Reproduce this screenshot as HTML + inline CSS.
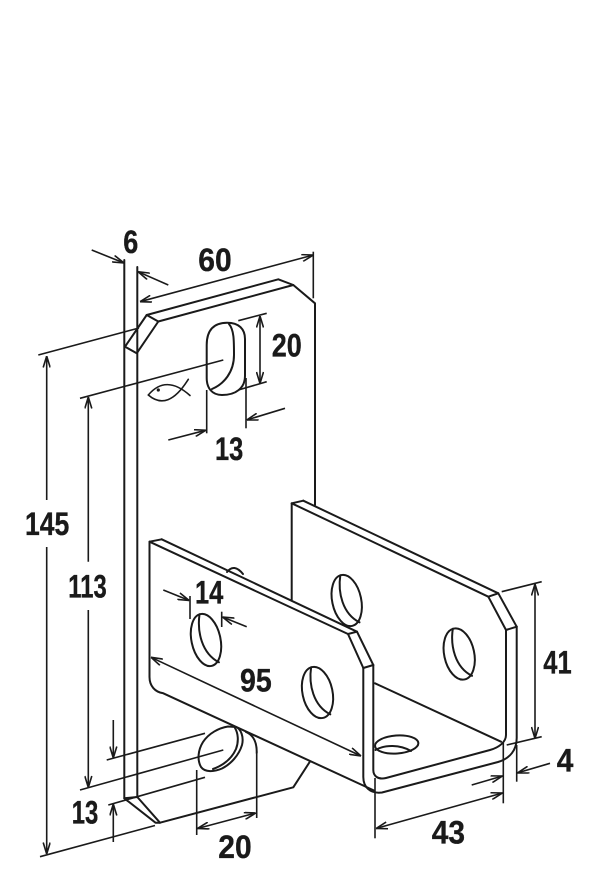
<!DOCTYPE html>
<html>
<head>
<meta charset="utf-8">
<style>
  html,body{margin:0;padding:0;background:#fff;}
  svg{display:block;}
  text{font-family:"Liberation Sans",sans-serif;font-weight:bold;font-size:32px;fill:#1a1a1a;stroke:#1a1a1a;stroke-width:0.35;}
</style>
</head>
<body>
<svg width="600" height="869" viewBox="0 0 600 869" xmlns="http://www.w3.org/2000/svg">
  <defs>
    <marker id="ah" viewBox="0 0 12 8" refX="12" refY="4" markerWidth="12" markerHeight="8" markerUnits="userSpaceOnUse" orient="auto-start-reverse">
      <path d="M0.5,0.5 L12,4 L0.5,7.5" fill="none" stroke="#1a1a1a" stroke-width="1.6"/>
    </marker>
  </defs>

  <!-- OBJECT OUTLINES -->
  <g fill="none" stroke="#1a1a1a" stroke-width="2" stroke-linejoin="round" stroke-linecap="round">
    <!-- main vertical plate -->
    <path d="M124.3,260 V798.3"/>
    <path d="M137.3,267 V797"/>
    <path d="M146.7,315 L158.3,321.5 L136.7,353.3 L125,346.7 Z"/>
    <path d="M146.7,315 L278.3,279.3 L293.3,285 L315,303.3 V505"/>
    <path d="M158.3,321.5 L293.3,285"/>
    <path d="M124.3,798.3 L137.3,797 L160,822.7 L155.5,822.7 Z"/>
    <path d="M160,822.7 L293.3,787.3 L310,761.5"/>

    <!-- top slot -->
    <path d="M206.7,345 C206.7,330 214,322.7 227,322.7 C239,322.7 245,329 245,339 V376 C245,388 236,395 222,395 C212,395 206.7,388 206.7,378 Z"/>
    <path d="M229,324 C234,330 234,340 234,355 C234,372 224,384 212,389"/>

    <!-- fish symbol -->
    <path d="M148.3,395 Q166,374 190,395.5" stroke-width="1.6"/>
    <path d="M148.3,395 Q168,412 188.3,379.3" stroke-width="1.6"/>
    <circle cx="158.3" cy="390" r="1.2" fill="#1a1a1a" stroke-width="0.8"/>

    <!-- bottom slot -->
    <path d="M228,726.5 C219,728 209,733 203,742 C198,750 197,760 201,767 C205,772.5 214,772 222,768.5 C231,764 239,755 242,745 C244,737 241,729 236,727 Z"/>
    <path d="M235,728 C238,733 239,741 236,749 C232,758 224,765 213,769"/>
    <path d="M246,732 C253,735 257,742 256.7,753"/>

    <!-- small peek arc -->
    <path d="M227,572 Q234,563 243,574"/>

    <!-- back flange -->
    <path d="M303.3,500.7 L291.7,503.3 V600"/>
    <path d="M291.7,503.3 L488.3,596.7 L506,630"/>
    <path d="M303.3,500.7 L498.3,593.3 L516.7,626.7"/>
    <path d="M488.3,596.7 L498.3,593.3"/>
    <path d="M506,630 L516.7,626.7"/>
    <path d="M375,683.3 L501,741.7"/>

    <!-- front flange -->
    <path d="M161.7,539.3 L149.5,541.7 V677 C149.5,686 155,692 163.3,693.3 L374,790.5"/>
    <path d="M149.5,541.7 L348,634 L363.3,668"/>
    <path d="M161.7,539.3 L357,631.7 L373.3,665"/>
    <path d="M348,634 L357,631.7"/>
    <path d="M363.3,668 L373.3,665"/>

    <!-- U profile -->
    <path d="M363.3,668 V777 C363.3,787 370,794 382,792.5 L498,762 C510,758.5 516.7,750 516.7,738 V626.7"/>
    <path d="M373.3,665 V770 C373.3,776 378,780 386,778 L490,750 C499,747.5 506,742 506,735 V630"/>

    <!-- holes -->
    <g transform="translate(346.7,600.5) rotate(-12)">
      <ellipse cx="0" cy="0" rx="14.5" ry="26"/>
      <path d="M-1,-26 C-7,-10 -7,12 8,24"/>
    </g>
    <g transform="translate(459.2,654) rotate(-12)">
      <ellipse cx="0" cy="0" rx="15" ry="26"/>
      <path d="M-1,-26 C-7,-10 -7,12 8,24"/>
    </g>
    <g transform="translate(206,640) rotate(-12)">
      <ellipse cx="0" cy="0" rx="14.5" ry="26.5"/>
      <path d="M-1,-26.5 C-7,-10 -7,12 8,24.5"/>
    </g>
    <g transform="translate(317.5,692.5) rotate(-12)">
      <ellipse cx="0" cy="0" rx="15" ry="26"/>
      <path d="M-1,-26 C-7,-10 -7,12 8,24"/>
    </g>
    <ellipse cx="396.7" cy="744.5" rx="21.7" ry="9" transform="rotate(-4 396.7 744.5)"/>
    <path d="M375.5,750 C385,744.5 400,744.5 411,751"/>
  </g>

  <!-- DIMENSION LINES -->
  <g fill="none" stroke="#1a1a1a" stroke-width="1.6" stroke-linecap="butt">
    <!-- 6 -->
    <path d="M91.7,250 L124,263" marker-end="url(#ah)"/>
    <path d="M168.3,285 L138,271.7" marker-end="url(#ah)"/>
    <!-- 60 -->
    <path d="M140,301.7 L313.3,255" marker-start="url(#ah)" marker-end="url(#ah)"/>
    <path d="M313.3,251.7 V298.3"/>
    <!-- 145 -->
    <path d="M38.3,355 L139,328"/>
    <path d="M46.7,356 V500" marker-start="url(#ah)"/>
    <path d="M46.7,547 V854" marker-end="url(#ah)"/>
    <path d="M40,856.7 L155,825.5"/>
    <!-- 113 -->
    <path d="M80,398.3 L223.3,360"/>
    <path d="M88.3,397 V561.7" marker-start="url(#ah)"/>
    <path d="M88.3,610 V787.5" marker-end="url(#ah)"/>
    <path d="M80,790 L223.3,750"/>
    <!-- 20 top -->
    <path d="M238.3,320.7 L266.7,313.3"/>
    <path d="M238.3,390 L266.7,381.7"/>
    <path d="M260,316 V383.5" marker-start="url(#ah)" marker-end="url(#ah)"/>
    <!-- 13 top -->
    <path d="M206.7,390 V433.3"/>
    <path d="M246,378 V428.3"/>
    <path d="M168.3,440 L206,430.2" marker-end="url(#ah)"/>
    <path d="M285,408.3 L246.7,420" marker-end="url(#ah)"/>
    <!-- 14 -->
    <path d="M163.3,590 L189.3,600.5" marker-end="url(#ah)"/>
    <path d="M190,596 V619"/>
    <path d="M221.7,611.7 V627"/>
    <path d="M246.7,626.7 L222.5,617" marker-end="url(#ah)"/>
    <!-- 95 -->
    <path d="M151,657.3 L361,756" marker-start="url(#ah)" marker-end="url(#ah)"/>
    <!-- 13 bottom -->
    <path d="M106.7,760 L205,733.3"/>
    <path d="M108.3,805 L205,777.3"/>
    <path d="M113.3,720 V758" marker-end="url(#ah)"/>
    <path d="M113.3,842 V804" marker-end="url(#ah)"/>
    <!-- 20 bottom -->
    <path d="M196.7,770 V835"/>
    <path d="M256.7,753 V818"/>
    <path d="M197.5,828.5 L255.8,813" marker-start="url(#ah)" marker-end="url(#ah)"/>
    <!-- 41 -->
    <path d="M501.7,591.7 L541.7,581.7"/>
    <path d="M506.7,745 L541.7,736.7"/>
    <path d="M535,584 V738.5" marker-start="url(#ah)" marker-end="url(#ah)"/>
    <!-- 4 -->
    <path d="M503.3,743 V803.3"/>
    <path d="M516.7,745 V781.7"/>
    <path d="M550,763.3 L517.5,772.9" marker-end="url(#ah)"/>
    <path d="M471.7,785 L502.5,776" marker-end="url(#ah)"/>
    <!-- 43 -->
    <path d="M375,778 V838.3"/>
    <path d="M376,828.5 L502.5,793" marker-start="url(#ah)" marker-end="url(#ah)"/>
  </g>

  <!-- LABELS -->
  <text x="123.3" y="253" textLength="15" lengthAdjust="spacingAndGlyphs">6</text>
  <text x="198.3" y="271" textLength="33.4" lengthAdjust="spacingAndGlyphs">60</text>
  <text x="271.7" y="356.7" textLength="30" lengthAdjust="spacingAndGlyphs">20</text>
  <text x="215" y="460" textLength="28.3" lengthAdjust="spacingAndGlyphs">13</text>
  <text x="25" y="535" textLength="44.3" lengthAdjust="spacingAndGlyphs">145</text>
  <text x="68.3" y="597.7" textLength="38.4" lengthAdjust="spacingAndGlyphs">113</text>
  <text x="195" y="603.3" textLength="28.3" lengthAdjust="spacingAndGlyphs">14</text>
  <text x="240" y="691.7" textLength="31.7" lengthAdjust="spacingAndGlyphs">95</text>
  <text x="71.7" y="823.3" textLength="26.6" lengthAdjust="spacingAndGlyphs">13</text>
  <text x="218.3" y="858" textLength="33.4" lengthAdjust="spacingAndGlyphs">20</text>
  <text x="543.3" y="673.3" textLength="28.4" lengthAdjust="spacingAndGlyphs">41</text>
  <text x="556.7" y="771.7" textLength="16.6" lengthAdjust="spacingAndGlyphs">4</text>
  <text x="431.7" y="843.3" textLength="33.3" lengthAdjust="spacingAndGlyphs">43</text>
</svg>
</body>
</html>
